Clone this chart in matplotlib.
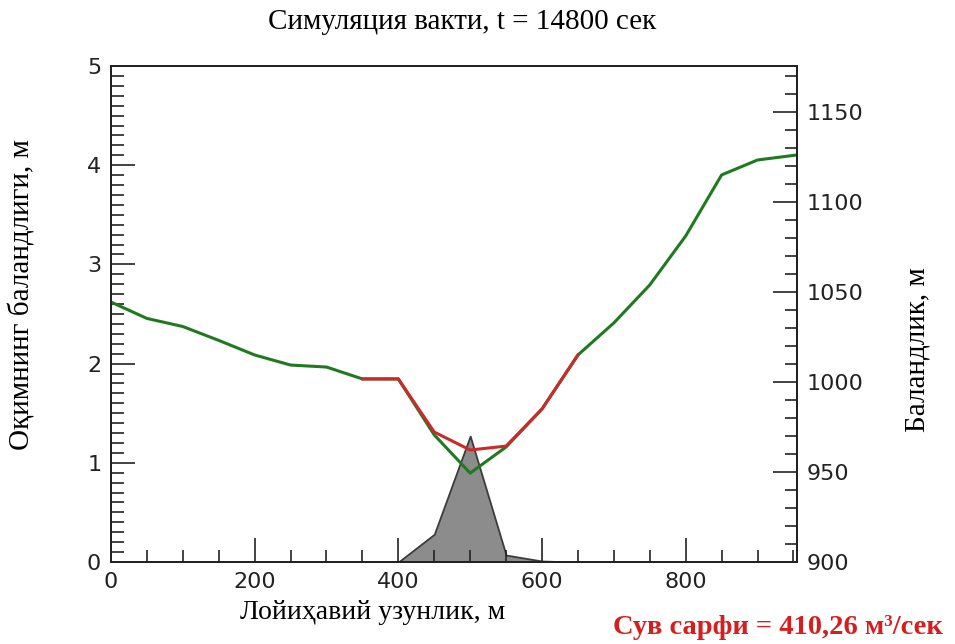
import matplotlib
matplotlib.use("Agg")
import matplotlib.pyplot as plt
from matplotlib.ticker import MultipleLocator

# =========================
# Data
# =========================
distance = [0, 50, 100, 150, 200, 250, 300, 350, 400, 450,
            500, 550, 600, 650, 700, 750, 800, 850, 900, 955]
bed_elev = [1044.4, 1035.3, 1030.8, 1023.1, 1015.0, 1009.4, 1008.3, 1001.7, 1001.7, 970.6,
            949.4, 963.9, 985.0, 1015.0, 1032.8, 1053.9, 1081.1, 1115.0, 1123.3, 1126.1]

water_x = [350, 400, 450, 500, 550, 600, 650]
water_elev = [1001.7, 1001.7, 972.2, 962.2, 964.4, 985.0, 1015.0]

depth_x = [350, 400, 450, 500, 550, 600, 650]
depth = [0.0, 0.0, 0.28, 1.27, 0.07, 0.01, 0.0]

title = "Симуляция вакти, t = 14800 сек"
xlabel = "Лойиҳавий узунлик, м"
ylabel_left = "Оқимнинг баландлиги, м"
ylabel_right = "Баландлик, м"
flow_text = "Сув сарфи = 410,26 м³/сек"

serif = ["Liberation Serif", "DejaVu Serif"]
sans = ["DejaVu Sans"]

# =========================
# Figure
# =========================
fig = plt.figure(figsize=(9.55, 6.44), dpi=100)
ax1 = fig.add_axes([0.1162, 0.1273, 0.7184, 0.7702])
ax2 = ax1.twinx()

# water depth (left axis)
ax1.fill_between(depth_x, depth, 0, facecolor="#8c8c8c", edgecolor="#3c3c3c", linewidth=1.3)

# bed and water surface (right axis)
ax2.plot(distance, bed_elev, color="#1f7a1f", linewidth=2.2)
ax2.plot(water_x, water_elev, color="#cc2a2a", linewidth=2.2)

ax1.set_xlim(0, 955)
ax1.set_ylim(0, 5)
ax2.set_ylim(900, 1175.5)

ax1.xaxis.set_major_locator(MultipleLocator(200))
ax1.xaxis.set_minor_locator(MultipleLocator(50))
ax1.yaxis.set_major_locator(MultipleLocator(1))
ax1.yaxis.set_minor_locator(MultipleLocator(0.1))
ax2.yaxis.set_major_locator(MultipleLocator(50))
ax2.yaxis.set_minor_locator(MultipleLocator(10))

for ax in (ax1, ax2):
    for s in ax.spines.values():
        s.set_linewidth(1.4)
        s.set_color("#222222")

ax1.tick_params(axis="both", which="both", direction="in", top=False, right=False,
                colors="#222222", labelsize=16, width=1.2)
ax1.tick_params(axis="both", which="major", length=17, pad=7)
ax1.tick_params(axis="both", which="minor", length=9)
ax2.tick_params(axis="y", which="both", direction="in", left=False, right=True,
                colors="#222222", labelsize=16, width=1.2)
ax2.tick_params(axis="y", which="major", length=17, pad=7)
ax2.tick_params(axis="y", which="minor", length=9)

for lab in ax1.get_xticklabels() + ax1.get_yticklabels() + ax2.get_yticklabels():
    lab.set_family(sans)

# =========================
# Texts
# =========================
fig.text(0.484, 0.966, title, ha="center", va="center", fontsize=21, family=serif)
fig.text(0.39, 0.049, xlabel, ha="center", va="center", fontsize=20, family=serif)
fig.text(0.023, 0.543, ylabel_left, ha="center", va="center", rotation=90,
         fontsize=21, family=serif)
fig.text(0.961, 0.457, ylabel_right, ha="center", va="center", rotation=90,
         fontsize=21, family=serif)
fig.text(0.815, 0.025, flow_text, ha="center", va="center", fontsize=20.5,
         fontweight="bold", color="#d61e1e", family=serif)

fig.savefig("out.png", dpi=100)
